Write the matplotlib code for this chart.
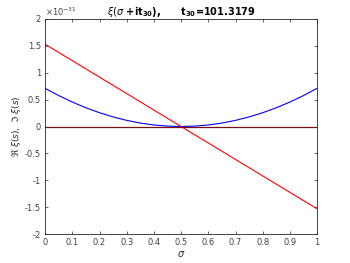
import matplotlib
matplotlib.use("Agg")
import matplotlib.pyplot as plt

# sigma samples along the critical strip
sigma = [0.0, 0.05, 0.1, 0.15, 0.2, 0.25, 0.3, 0.35, 0.4, 0.45, 0.5,
         0.55, 0.6, 0.65, 0.7, 0.75, 0.8, 0.85, 0.9, 0.95, 1.0]

# real part of xi (units of 1e-31)
re_xi = [0.71, 0.575, 0.455, 0.348, 0.256, 0.178, 0.114, 0.064, 0.028, 0.007, 0.0,
         0.007, 0.028, 0.064, 0.114, 0.178, 0.256, 0.348, 0.455, 0.575, 0.71]
# imaginary part of xi (units of 1e-31)
im_xi = [1.53, 1.377, 1.224, 1.071, 0.918, 0.765, 0.612, 0.459, 0.306, 0.153, 0.0,
         -0.153, -0.306, -0.459, -0.612, -0.765, -0.918, -1.071, -1.224, -1.377, -1.53]
# the flat lines at zero
zero_a = [0.0] * len(sigma)
zero_b = [0.0] * len(sigma)

xticks = [0, 0.1, 0.2, 0.3, 0.4, 0.5, 0.6, 0.7, 0.8, 0.9, 1]
xlabels = ['0', '0.1', '0.2', '0.3', '0.4', '0.5', '0.6', '0.7', '0.8', '0.9', '1']
yticks = [-2, -1.5, -1, -0.5, 0, 0.5, 1, 1.5, 2]
ylabels = ['-2', '-1.5', '-1', '-0.5', '0', '0.5', '1', '1.5', '2']

plt.rcParams['font.family'] = ['DejaVu Sans']
fig = plt.figure(figsize=(3.5, 2.63), dpi=100)
ax = fig.add_axes([0.129, 0.110, 0.777, 0.818])

ax.plot(sigma, re_xi, color='#0000ff', linewidth=0.8)
ax.plot(sigma, im_xi, color='#ff0000', linewidth=0.8)
ax.plot(sigma, zero_a, color='black', linewidth=0.8)
ax.plot(sigma, zero_b, color='#7a1010', linewidth=0.8)

ax.set_xlim(0, 1)
ax.set_ylim(-2, 2)
ax.set_xticks(xticks)
ax.set_xticklabels(xlabels)
ax.set_yticks(yticks)
ax.set_yticklabels(ylabels)

grey = '#262626'
ax.tick_params(direction='in', length=2.5, width=0.5, labelsize=6,
               colors=grey, labelcolor='#404040', top=True, right=True, pad=3)
for s in ax.spines.values():
    s.set_linewidth(0.6)
    s.set_color(grey)

ax.text(0.0, 1.005, r'$\times 10^{-31}$', transform=ax.transAxes,
        fontsize=6, color='#404040', ha='left', va='bottom')

ax.set_xlabel(r'$\sigma$', fontsize=7, color=grey, labelpad=1)
ax.set_ylabel(r'$\Re\ \xi(s),\ \Im\ \xi(s)$', fontsize=6.5, color=grey, labelpad=1)
ax.set_title(r'$\xi(\sigma$ +i$\mathbf{t_{30}}$),      $\mathbf{t_{30}}$=101.3179',
             fontsize=7, fontweight='bold', pad=3)

fig.savefig('out.png', dpi=100)
